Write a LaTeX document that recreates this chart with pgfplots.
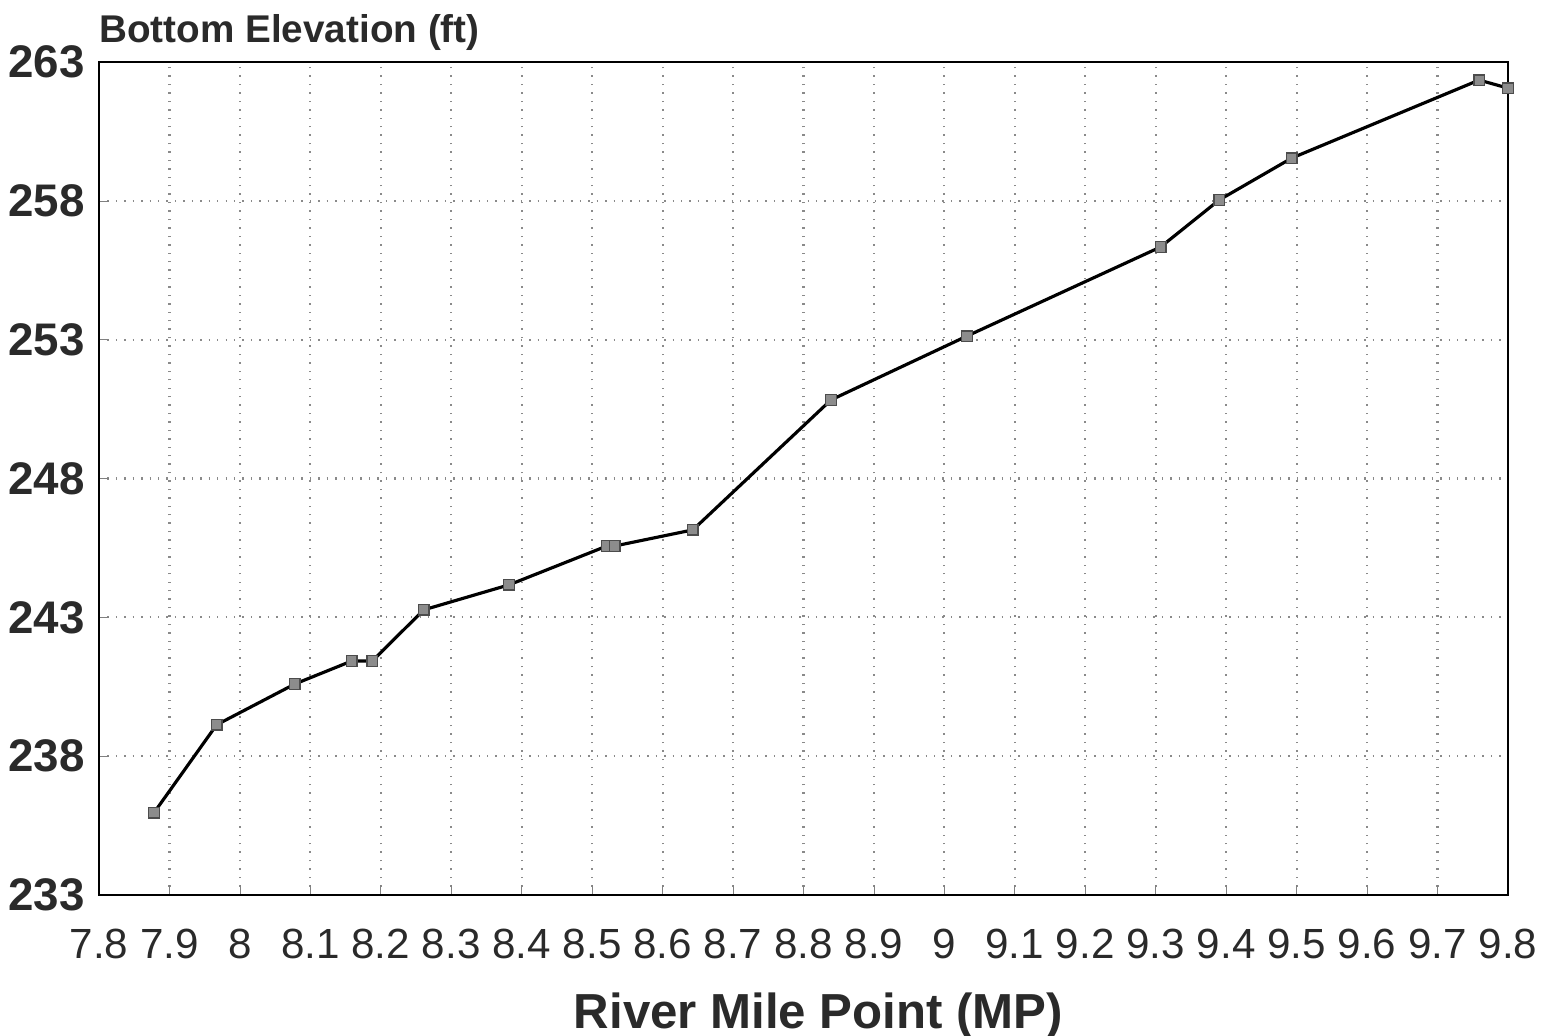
\documentclass[border=0pt]{standalone}
\usepackage{pgfplots}
\pgfplotsset{compat=1.18}
\usepackage{fontspec}
\setmainfont{Liberation Sans}
\definecolor{txt}{HTML}{2A2A2A}
\definecolor{gridc}{HTML}{8A8A8A}
\definecolor{markc}{HTML}{8C8C8C}

\begin{document}
\begin{tikzpicture}
% canvas 15.49cm x 10.35cm
\path[use as bounding box] (-0.99,-1.40) rectangle (14.50,8.95);
\begin{axis}[
  at={(0,0)}, anchor=south west,
  scale only axis,
  width=14.09cm, height=8.33cm,
  xmin=7.8, xmax=9.8,
  ymin=233, ymax=263,
  xtick={7.8,7.9,...,9.81},
  ytick={233,238,...,263},
  xticklabels={7.8,7.9,8,8.1,8.2,8.3,8.4,8.5,8.6,8.7,8.8,8.9,9,9.1,9.2,9.3,9.4,9.5,9.6,9.7,9.8},
  tick align=inside,
  xtick pos=bottom, ytick pos=left,
  major tick length=0.1cm,
  grid=major,
  major grid style={gridc, dotted, line width=0.6pt},
  axis line style={black, line width=0.8pt},
  x tick label style={font=\fontsize{12}{12}\selectfont, text=txt, yshift=-0.22cm},
  y tick label style={font=\fontsize{13}{13}\selectfont\bfseries, text=txt, xshift=-0.02cm},
  /pgf/number format/assume math mode=true,
  xlabel={River Mile Point (MP)},
  xlabel style={font=\fontsize{14}{14}\selectfont\bfseries, text=txt, yshift=-0.09cm, xshift=0.15cm},
  title={Bottom Elevation (ft)},
  title style={font=\fontsize{11}{11}\selectfont\bfseries, text=txt, at={(0,1)}, anchor=south west, xshift=-0.12cm, yshift=-0.22cm},
]
\addplot[black, line width=0.9pt, mark=square*, mark size=1.5pt,
  mark options={fill=markc, draw=black!70, line width=0.4pt}] coordinates {
  (7.878,235.96) (7.967,239.13) (8.078,240.60) (8.159,241.43) (8.188,241.43)
  (8.261,243.27) (8.382,244.17) (8.521,245.57) (8.532,245.57) (8.643,246.15)
  (8.839,250.83) (9.032,253.13) (9.307,256.34) (9.390,258.03) (9.493,259.54)
  (9.759,262.35) (9.800,262.06)
};
\end{axis}
\end{tikzpicture}
\end{document}
